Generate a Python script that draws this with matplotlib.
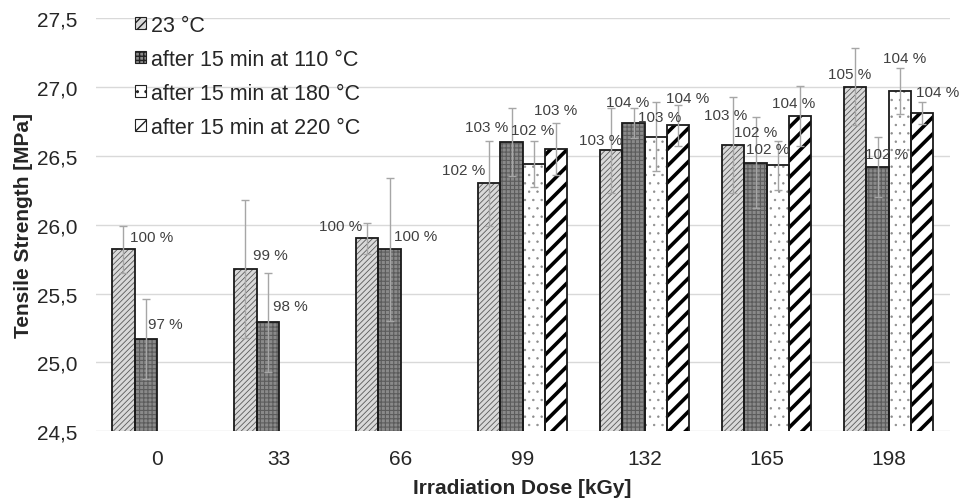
import numpy as np
import matplotlib
matplotlib.use("Agg")
from matplotlib import pyplot as plt
from matplotlib.patches import Patch

plt.rcParams['font.family'] = ['Liberation Sans', 'DejaVu Sans']

# data
doses = ['0', '33', '66', '99', '132', '165', '198']
series_names = ['23 °C', 'after 15 min at 110 °C', 'after 15 min at 180 °C', 'after 15 min at 220 °C']
nan = np.nan
v23 = [25.82, 25.68, 25.90, 26.30, 26.54, 26.58, 27.00]
v110 = [25.17, 25.29, 25.82, 26.60, 26.74, 26.45, 26.42]
v180 = [nan, nan, nan, 26.44, 26.64, 26.43, 26.97]
v220 = [nan, nan, nan, 26.55, 26.72, 26.79, 26.81]
e23 = [0.17, 0.50, 0.11, 0.31, 0.31, 0.35, 0.28]
e110 = [0.29, 0.36, 0.52, 0.25, 0.11, 0.33, 0.22]
e180 = [nan, nan, nan, 0.17, 0.25, 0.18, 0.17]
e220 = [nan, nan, nan, 0.19, 0.15, 0.22, 0.08]
pct23 = ['100 %', '99 %', '100 %', '102 %', '103 %', '103 %', '105 %']
pct110 = ['97 %', '98 %', '100 %', '103 %', '104 %', '102 %', '102 %']
pct180 = ['', '', '', '102 %', '103 %', '102 %', '104 %']
pct220 = ['', '', '', '103 %', '104 %', '104 %', '104 %']

values = [v23, v110, v180, v220]
errors = [e23, e110, e180, e220]
pcts = [pct23, pct110, pct180, pct220]

# label offsets in pixels from the bar top (hand placed like in the original)
label_off = [
    [(28, 12), (25, 14), (-27, 12), (-26, 13), (-11, 10), (-8, 30), (-6, 13)],
    [(20, 15), (23, 16), (26, 13), (-25, 15), (-6, 21), (0, 31), (9, 13)],
    [None, None, None, (-1, 34), (4, 20), (-10, 16), (5, 33)],
    [None, None, None, (0, 39), (10, 27), (-6, 13), (16, 21)],
]

# fill, hatch, hatch colour, hatch width
styles = [
    ('#d9d9d9', '//////', '#5a5a5a', 0.6),
    ('#8a8a8a', '++++', '#5c5c5c', 0.8),
    ('#ffffff', '..', '#8c8c8c', 0.5),
    ('#ffffff', '//', '#000000', 2.6),
]

fig = plt.figure(figsize=(9.67, 5.02), dpi=100)
ax = fig.add_axes([0.099, 0.139, 0.883, 0.823])

x = np.arange(len(doses))
w = 0.182

for i in range(4):
    xs = x + (i - 1.5) * w
    fc, hatch, hc, hw = styles[i]
    with plt.rc_context({'hatch.linewidth': hw}):
        ax.bar(xs, values[i], w, color=fc, hatch=hatch, edgecolor=hc, linewidth=0, zorder=2)
    ax.bar(xs, values[i], w, fill=False, edgecolor='#1a1a1a', linewidth=1.3, zorder=2.5)
    ax.errorbar(xs, values[i], yerr=errors[i], fmt='none', ecolor='#a6a6a6',
                elinewidth=1, capsize=3, capthick=1, zorder=3)
    for j in range(len(doses)):
        if label_off[i][j] is None or np.isnan(values[i][j]):
            continue
        ax.annotate(pcts[i][j], (xs[j], values[i][j]), xytext=label_off[i][j],
                    textcoords='offset pixels', ha='center', va='center',
                    fontsize=11, color='#404040', zorder=4)

ax.set_xlim(-0.5, 6.5)
ax.set_ylim(24.5, 27.5)
ax.set_yticks([24.5, 25.0, 25.5, 26.0, 26.5, 27.0, 27.5])
ax.set_yticklabels(['24,5', '25,0', '25,5', '26,0', '26,5', '27,0', '27,5'])
ax.set_xticks(x)
ax.set_xticklabels(doses)
ax.tick_params(length=0, labelsize=15, labelcolor='#262626')
ax.tick_params(axis='y', pad=13)
ax.tick_params(axis='x', pad=13)
ax.grid(axis='y', color='#d9d9d9', linewidth=1)
ax.set_axisbelow(True)
for s in ax.spines.values():
    s.set_visible(False)

ax.set_ylabel('Tensile Strength [MPa]', fontsize=15, fontweight='bold', color='#262626', labelpad=3)
ax.set_xlabel('Irradiation Dose [kGy]', fontsize=15, fontweight='bold', color='#262626', labelpad=7)

handles = []
for fc, hatch, hc, hw in styles:
    handles.append(Patch(facecolor=fc, hatch=hatch.replace('//////', '////'), edgecolor='#222222', linewidth=0.8))
ax.legend(handles, series_names, loc='upper left', bbox_to_anchor=(0.0457, 1.008),
          frameon=False, fontsize=15.5, handlelength=0.5, handleheight=0.5,
          handletextpad=0.25, labelspacing=0.6, borderpad=0, borderaxespad=0,
          labelcolor='#262626')

plt.savefig('out.png', dpi=100)
